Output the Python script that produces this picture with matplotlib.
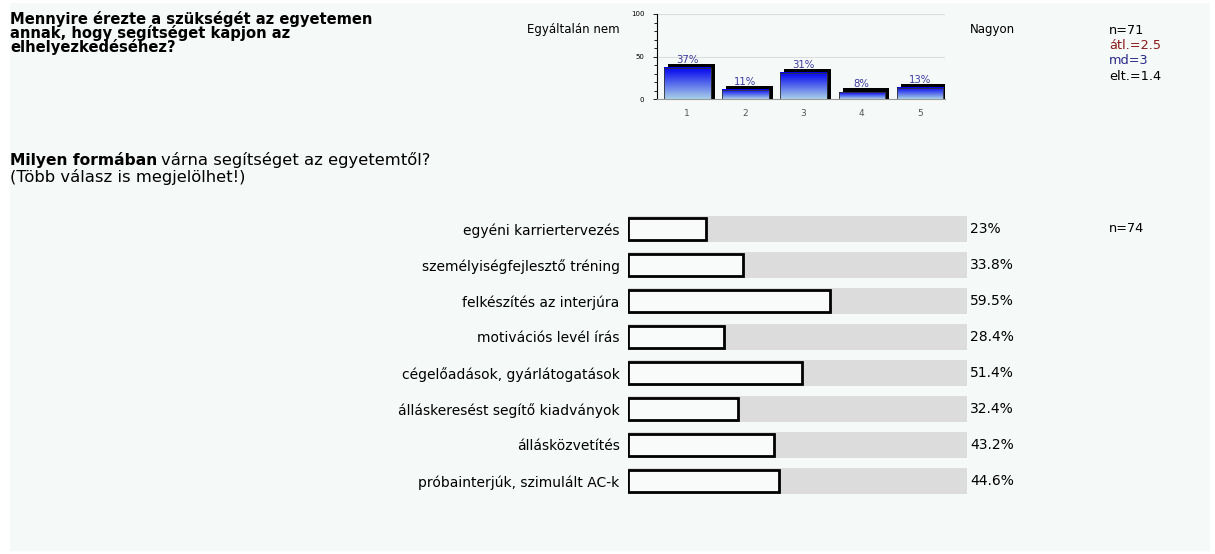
import matplotlib.pyplot as plt
import matplotlib.patches as mpatches
import numpy as np
from matplotlib.colors import LinearSegmentedColormap

plt.rcParams['font.family'] = ['DejaVu Sans']

# top question: distribution on a 1-5 scale
title_lines = ['Mennyire érezte a szükségét az egyetemen',
               'annak, hogy segítséget kapjon az',
               'elhelyezkedéséhez?']
scale_labels = ['1', '2', '3', '4', '5']
scale_pct = [37, 11, 31, 8, 13]
stats_lines = ['n=71', 'átl.=2.5', 'md=3', 'elt.=1.4']
stats_colors = ['#000000', '#8b1a1a', '#2a2a8a', '#000000']

# bottom question: multiple choice
options = ['egyéni karriertervezés', 'személyiségfejlesztő tréning',
           'felkészítés az interjúra', 'motivációs levél írás',
           'cégelőadások, gyárlátogatások', 'álláskeresést segítő kiadványok',
           'állásközvetítés', 'próbainterjúk, szimulált AC-k']
option_pct = [23, 33.8, 59.5, 28.4, 51.4, 32.4, 43.2, 44.6]
option_labels = ['23%', '33.8%', '59.5%', '28.4%', '51.4%', '32.4%', '43.2%', '44.6%']

W, H = 1215, 554
fig = plt.figure(figsize=(W / 100, H / 100), dpi=100)
fig.patch.set_facecolor('white')


def fx(px):
    return px / W


def fy(py):
    return 1 - py / H


# light background panel
fig.patches.append(mpatches.Rectangle((fx(10), fy(551)), fx(1200), 548 / H,
                                      transform=fig.transFigure, facecolor='#f5f9f7',
                                      edgecolor='none', zorder=-5))

# question 1 text
for i, line in enumerate(title_lines):
    fig.text(fx(10), fy(19 + i * 14), line, fontsize=10.6, fontweight='bold',
             va='center', ha='left')
fig.text(fx(620), fy(29), 'Egyáltalán nem', fontsize=8.5, ha='right', va='center')
fig.text(fx(970), fy(29), 'Nagyon', fontsize=8.5, ha='left', va='center')
for i, (s, c) in enumerate(zip(stats_lines, stats_colors)):
    fig.text(fx(1109), fy(30 + i * 15.5), s, fontsize=9.3, color=c, ha='left', va='center')

# small bar chart
ax1 = fig.add_axes([fx(657), fy(99), fx(288), 85 / H])
ax1.set_facecolor('none')
x = np.arange(1, 6)
cmap = LinearSegmentedColormap.from_list('bl', ['#a8d0e8', '#0000f0'])
grad = np.linspace(0, 1, 100).reshape(-1, 1)
bw = 0.8
for xi, v, lab in zip(x, scale_pct, scale_pct):
    ax1.bar(xi + 0.07, v + 4.5, width=bw, color='black', zorder=2)
    ax1.imshow(grad, extent=(xi - bw / 2, xi + bw / 2, 0, v), origin='lower',
               cmap=cmap, aspect='auto', zorder=3)
    ax1.add_patch(mpatches.Rectangle((xi - bw / 2, 0), bw, v, fill=False,
                                     edgecolor='#333333', lw=0.6, zorder=4))
    ax1.text(xi, v + 3.5, f'{lab}%', ha='center', va='bottom', fontsize=7.3,
             color='#3a3aa0', zorder=5)
ax1.set_xlim(0.48, 5.43)
ax1.set_ylim(0, 100)
ax1.set_yticks([0, 50, 100])
ax1.set_yticks(np.arange(0, 101, 10), minor=True)
ax1.tick_params(axis='y', labelsize=5, length=3, width=0.6, pad=6, which='major')
ax1.tick_params(axis='y', length=2, width=0.6, which='minor')
ax1.set_xticks(x)
ax1.set_xticklabels(scale_labels)
ax1.tick_params(axis='x', length=0, labelsize=6.5, labelcolor='#555555', pad=7)
for yv in (50, 100):
    ax1.axhline(yv, color='#dddddd', lw=0.8, zorder=1)
for side in ('top', 'right'):
    ax1.spines[side].set_visible(False)
ax1.spines['bottom'].set_color('#999999')
ax1.spines['left'].set_linewidth(0.8)

# question 2 text
t = fig.text(fx(10), fy(160), 'Milyen formában', fontsize=11.2, fontweight='bold',
             ha='left', va='center')
fig.canvas.draw()
bb = t.get_window_extent()
fig.text(bb.x1 / W + fx(4), fy(160), 'várna segítséget az egyetemtől?', fontsize=11.8,
         ha='left', va='center')
fig.text(fx(10), fy(177), '(Több válasz is megjelölhet!)', fontsize=11.8,
         ha='left', va='center')

# horizontal bar chart
ax2 = fig.add_axes([fx(628), fy(499), fx(339), 288 / H])
ax2.set_facecolor('none')
y = np.arange(len(options))
ax2.barh(y, [100] * len(options), height=0.7, color='#dcdcdc', zorder=1)
ax2.barh(y, option_pct, height=0.62, color='#f8fbf9', edgecolor='black',
         linewidth=2, zorder=2)
for yi, lab in zip(y, option_labels):
    ax2.text(101, yi, lab, ha='left', va='center', fontsize=10)
ax2.set_xlim(0, 100)
ax2.set_ylim(len(options) - 0.5, -0.5)
ax2.set_yticks(y)
ax2.set_yticklabels(options, fontsize=10)
ax2.tick_params(axis='y', length=0, pad=6)
ax2.set_xticks([])
for s in ax2.spines.values():
    s.set_visible(False)
fig.text(fx(1109), fy(229), 'n=74', fontsize=9.3, ha='left', va='center')

fig.savefig('out.png', dpi=100)
